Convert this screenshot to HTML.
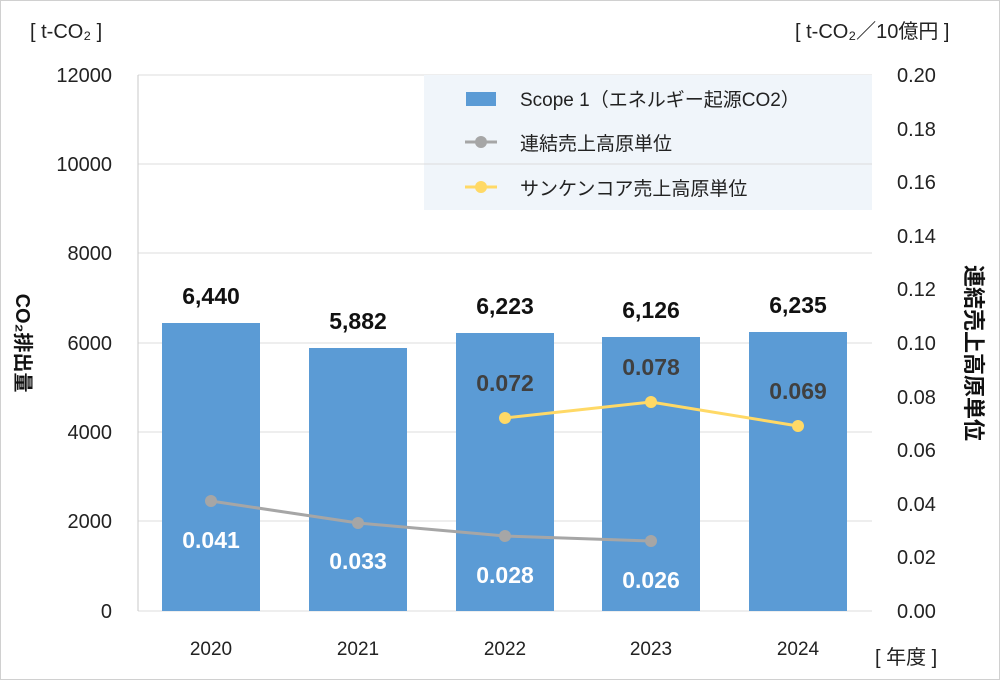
<!DOCTYPE html>
<html><head><meta charset="utf-8"><style>
body{margin:0;background:#fff}
svg text{font-family:"Liberation Sans","Noto Sans CJK JP",sans-serif}
</style></head><body>
<svg width="1000" height="680" viewBox="0 0 1000 680" xmlns="http://www.w3.org/2000/svg">
<rect x="0.5" y="0.5" width="999" height="679" fill="#fff" stroke="#d0d0d0"/>
<g stroke="#dcdcdc" stroke-width="1">
<line x1="138" y1="75" x2="872" y2="75"/>
<line x1="138" y1="164" x2="872" y2="164"/>
<line x1="138" y1="253" x2="872" y2="253"/>
<line x1="138" y1="343" x2="872" y2="343"/>
<line x1="138" y1="432" x2="872" y2="432"/>
<line x1="138" y1="521" x2="872" y2="521"/>
<line x1="138" y1="611" x2="872" y2="611"/>
</g>
<line x1="138" y1="75" x2="138" y2="611" stroke="#c8c8c8"/>
<rect x="424" y="75" width="448" height="135" fill="#f0f5fa"/>
<line x1="424" y1="164" x2="872" y2="164" stroke="#dcdcdc"/>
<rect x="466" y="92" width="30" height="14" fill="#5b9bd5"/>
<line x1="465" y1="142" x2="497" y2="142" stroke="#a6a6a6" stroke-width="3"/><circle cx="481" cy="142" r="6" fill="#a6a6a6"/>
<line x1="465" y1="187" x2="497" y2="187" stroke="#ffd966" stroke-width="3"/><circle cx="481" cy="187" r="6" fill="#ffd966"/>
<g font-size="19" fill="#222">
<text x="520" y="106">Scope 1（エネルギー起源CO2）</text>
<text x="520" y="150">連結売上高原単位</text>
<text x="520" y="195">サンケンコア売上高原単位</text>
</g>
<g fill="#5b9bd5">
<rect x="162" y="323" width="98" height="288"/>
<rect x="309" y="348" width="98" height="263"/>
<rect x="456" y="333" width="98" height="278"/>
<rect x="602" y="337" width="98" height="274"/>
<rect x="749" y="332" width="98" height="279"/>
</g>
<g font-size="20" fill="#222" text-anchor="end">
<text x="112" y="82">12000</text><text x="112" y="171">10000</text><text x="112" y="260">8000</text>
<text x="112" y="350">6000</text><text x="112" y="439">4000</text><text x="112" y="528">2000</text><text x="112" y="618">0</text>
</g>
<g font-size="20" fill="#222">
<text x="897" y="82">0.20</text><text x="897" y="136">0.18</text><text x="897" y="189">0.16</text>
<text x="897" y="243">0.14</text><text x="897" y="296">0.12</text><text x="897" y="350">0.10</text>
<text x="897" y="404">0.08</text><text x="897" y="457">0.06</text><text x="897" y="511">0.04</text>
<text x="897" y="564">0.02</text><text x="897" y="618">0.00</text>
</g>
<g font-size="19" fill="#222" text-anchor="middle">
<text x="211" y="655">2020</text><text x="358" y="655">2021</text><text x="505" y="655">2022</text>
<text x="651" y="655">2023</text><text x="798" y="655">2024</text>
</g>
<text x="30" y="38" font-size="20" fill="#222">[ t-CO₂ ]</text>
<text x="795" y="38" font-size="20" fill="#222">[ t-CO₂／10億円 ]</text>
<text x="875" y="664" font-size="20" fill="#222">[ 年度 ]</text>
<text transform="translate(16,343) rotate(90)" font-size="20" font-weight="bold" fill="#111" text-anchor="middle">CO₂排出量</text>
<text transform="translate(966,353) rotate(90)" font-size="22" font-weight="bold" fill="#111" text-anchor="middle">連結売上高原単位</text>
<g font-size="23" font-weight="bold" fill="#111" text-anchor="middle">
<text x="211" y="304">6,440</text><text x="358" y="329">5,882</text><text x="505" y="314">6,223</text>
<text x="651" y="318">6,126</text><text x="798" y="313">6,235</text>
</g>
<polyline points="211,501 358,523 505,536 651,541" fill="none" stroke="#a6a6a6" stroke-width="3"/>
<g fill="#a6a6a6"><circle cx="211" cy="501" r="6"/><circle cx="358" cy="523" r="6"/><circle cx="505" cy="536" r="6"/><circle cx="651" cy="541" r="6"/></g>
<polyline points="505,418 651,402 798,426" fill="none" stroke="#ffd966" stroke-width="3"/>
<g fill="#ffd966"><circle cx="505" cy="418" r="6"/><circle cx="651" cy="402" r="6"/><circle cx="798" cy="426" r="6"/></g>
<g font-size="23" font-weight="bold" fill="#fff" text-anchor="middle">
<text x="211" y="548">0.041</text><text x="358" y="569">0.033</text><text x="505" y="583">0.028</text><text x="651" y="588">0.026</text>
</g>
<g font-size="23" font-weight="bold" fill="#404040" text-anchor="middle">
<text x="505" y="391">0.072</text><text x="651" y="375">0.078</text><text x="798" y="399">0.069</text>
</g>
</svg>
</body></html>
